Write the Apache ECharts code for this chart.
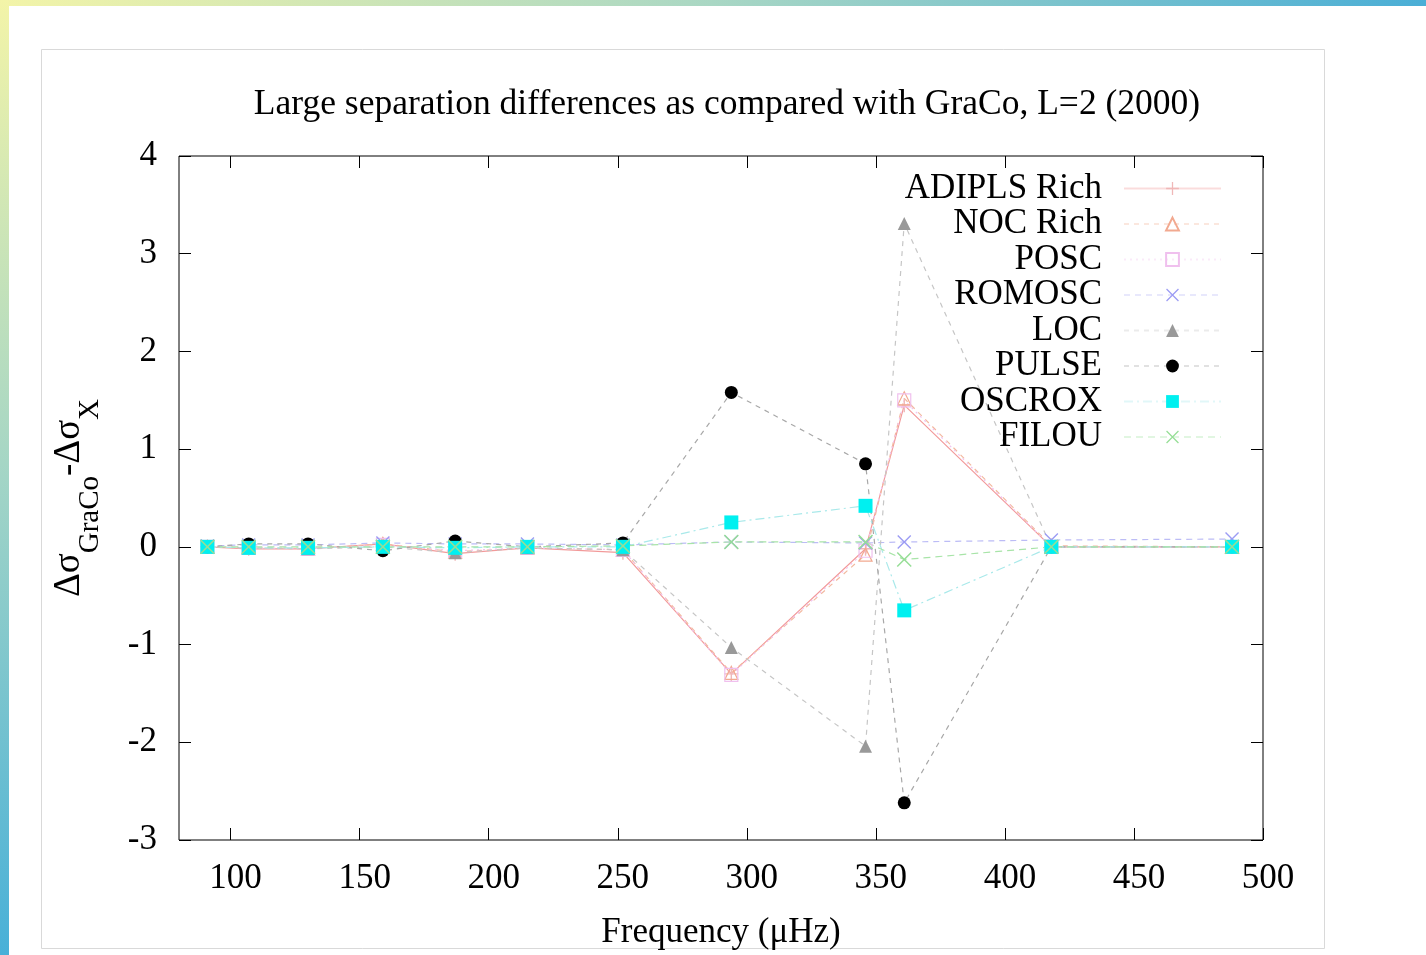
<!DOCTYPE html>
<html>
<head>
<meta charset="utf-8">
<script src="https://cdn.jsdelivr.net/npm/echarts@6/dist/echarts.min.js"></script>
<style>
html, body { margin: 0; padding: 0; background: #fff; }
#chart { width: 1426px; height: 955px; }
</style>
</head>
<body>
<div id="chart"></div>
<script>
// frequencies (uHz) of the L=2 modes
var freqs = [91, 107, 130, 159, 187, 215, 252, 294, 346, 361, 418, 488];

var adiplsRich = [0, -0.02, -0.02, 0.03, -0.07, -0.01, -0.06, -1.30, -0.02, 1.45, 0, 0];
var nocRich    = [0, -0.01, -0.02, 0.03, -0.05, -0.01, -0.03, -1.29, -0.08, 1.52, 0.01, 0];
var posc       = [0, -0.01, -0.02, 0.02, -0.04, -0.01, -0.03, -1.31, -0.04, 1.50, 0, 0];
var romosc     = [0.01, 0.02, 0.02, 0.04, 0.03, 0.03, 0.02, 0.05, 0.04, 0.05, 0.07, 0.08];
var loc        = [0, -0.01, -0.02, 0, -0.06, -0.01, -0.03, -1.03, -2.04, 3.31, 0, 0];
var pulse      = [0, 0.03, 0.03, -0.04, 0.06, 0, 0.04, 1.58, 0.85, -2.62, 0, 0];
var oscrox     = [0, -0.01, -0.01, 0, -0.01, 0, 0, 0.25, 0.42, -0.65, 0, 0];
var filou      = [0, 0, 0, 0, 0, 0, 0.01, 0.05, 0.05, -0.13, 0, 0];

var xTicks = [100, 150, 200, 250, 300, 350, 400, 450, 500];

var FONT = 'Liberation Serif';
var PLUS = 'path://M0,4.5h10v1h-10z M4.5,0h1v10h-1z';
var CROSS = 'path://M0,0.7L0.7,0L10,9.3L9.3,10Z M9.3,0L10,0.7L0.7,10L0,9.3Z';

function pairs(ys) {
    return freqs.map(function (f, i) { return [f, ys[i]]; });
}

function mk(name, ys, lineColor, lineType, symbol, size, fill, border) {
    return {
        name: name,
        type: 'line',
        data: pairs(ys),
        symbol: symbol,
        symbolSize: size,
        showAllSymbol: true,
        lineStyle: { color: lineColor, width: 1.2, type: lineType },
        itemStyle: { color: fill, borderColor: border || fill, borderWidth: border ? 1.2 : 0 },
        emphasis: { disabled: true },
        animation: false
    };
}

var tick = { inside: true, length: 12, lineStyle: { color: '#000' } };

var chart = echarts.init(document.getElementById('chart'));

var option = {
    backgroundColor: '#fff',
    graphic: [
        { type: 'rect', shape: { x: 0, y: 0, width: 1426, height: 6 },
          style: { fill: new echarts.graphic.LinearGradient(0, 0, 1, 0, [
              { offset: 0, color: '#f3f4a8' }, { offset: 0.5, color: '#a9d7c4' }, { offset: 1, color: '#4aaed6' }]) } },
        { type: 'rect', shape: { x: 0, y: 0, width: 9, height: 955 },
          style: { fill: new echarts.graphic.LinearGradient(0, 0, 0, 1, [
              { offset: 0, color: '#f3f4a8' }, { offset: 0.5, color: '#a3d5c6' }, { offset: 1, color: '#48b0d8' }]) } },
        { type: 'rect', z: -1, shape: { x: 41.5, y: 49.5, width: 1283, height: 899 },
          style: { fill: '#fff', stroke: '#d9d9d9', lineWidth: 1 } }
    ],
    title: {
        text: 'Large separation differences as compared with GraCo, L=2 (2000)',
        left: 722,
        textAlign: 'center',
        top: 82,
        textStyle: { fontFamily: FONT, fontSize: 35.5, fontWeight: 'normal', color: '#000' }
    },
    legend: {
        orient: 'vertical',
        align: 'right',
        right: 199,
        top: 166,
        itemWidth: 97,
        itemHeight: 16,
        itemGap: 0.5,
        selectedMode: false,
        lineStyle: { opacity: 0.35 },
        textStyle: { fontFamily: FONT, fontSize: 35, color: '#000', lineHeight: 34, padding: [0, 17, 0, 0] },
        data: ['ADIPLS Rich', 'NOC Rich', 'POSC', 'ROMOSC', 'LOC', 'PULSE', 'OSCROX', 'FILOU']
    },
    grid: {
        left: 179, right: 163, top: 156, bottom: 115,
        show: true, borderColor: '#000', borderWidth: 1, backgroundColor: 'transparent'
    },
    xAxis: [{
        type: 'value', min: 80, max: 500,
        axisLine: { show: false, onZero: false },
        splitLine: { show: false },
        axisTick: Object.assign({ customValues: xTicks }, tick),
        axisLabel: { customValues: xTicks, margin: 21, padding: [0, 0, 0, 10], fontFamily: FONT, fontSize: 35, color: '#000' },
        name: 'Frequency (\u03bcHz)',
        nameLocation: 'middle',
        nameGap: 75,
        nameTextStyle: { fontFamily: FONT, fontSize: 35, color: '#000' }
    }, {
        type: 'value', min: 80, max: 500, position: 'top',
        axisLine: { show: false, onZero: false },
        splitLine: { show: false },
        axisTick: Object.assign({ customValues: xTicks }, tick),
        axisLabel: { show: false }
    }],
    yAxis: [{
        type: 'value', min: -3, max: 4, interval: 1,
        axisLine: { show: false, onZero: false },
        splitLine: { show: false },
        axisTick: tick,
        axisLabel: { margin: 22, fontFamily: FONT, fontSize: 35, color: '#000' },
        name: '{a|\u0394\u03c3}{b|GraCo}{a|-\u0394\u03c3}{b|X}',
        nameLocation: 'middle',
        nameRotate: 90,
        nameGap: 74,
        nameTextStyle: {
            fontFamily: FONT, color: '#000',
            rich: {
                a: { fontFamily: FONT, fontSize: 37, lineHeight: 54, verticalAlign: 'top', color: '#000' },
                b: { fontFamily: FONT, fontSize: 29, lineHeight: 29, verticalAlign: 'bottom', color: '#000' }
            }
        }
    }, {
        type: 'value', min: -3, max: 4, interval: 1, position: 'right',
        axisLine: { show: false, onZero: false },
        splitLine: { show: false },
        axisTick: tick,
        axisLabel: { show: false }
    }],
    series: [
        mk('ADIPLS Rich', adiplsRich, '#f29a9a', 'solid', PLUS, 14, '#f0b8b8'),
        mk('NOC Rich', nocRich, '#f3b9a0', [5, 5], 'triangle', 13, 'transparent', '#f2a990'),
        mk('POSC', posc, '#f1c4ef', [2, 4], 'rect', 13, 'transparent', '#f0c0ee'),
        mk('ROMOSC', romosc, '#bcbcf6', [6, 5], CROSS, 14, '#9c9cf4'),
        mk('LOC', loc, '#c6c6c6', [5, 5], 'triangle', 13, '#999999'),
        mk('PULSE', pulse, '#a8a8a8', [5, 5], 'circle', 13, '#000000'),
        mk('OSCROX', oscrox, '#a9e9ea', [9, 4, 2, 4], 'rect', 14, '#00f0f0'),
        mk('FILOU', filou, '#a8e4a8', [7, 5], CROSS, 15, '#96de96')
    ]
};

chart.setOption(option);
</script>
</body>
</html>
